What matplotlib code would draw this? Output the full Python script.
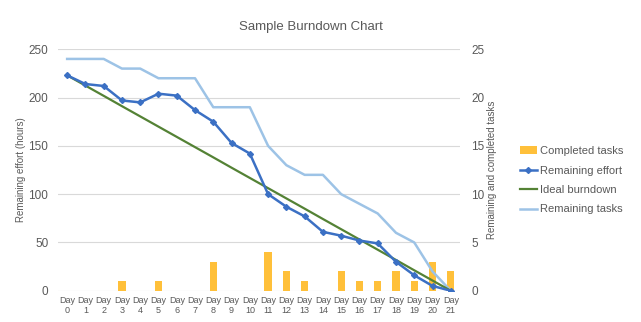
import matplotlib
matplotlib.use("Agg")
import matplotlib.pyplot as plt
import numpy as np

days = ["Day\n%d" % i for i in range(22)]
completed_tasks = [0, 0, 0, 1, 0, 1, 0, 0, 3, 0, 0, 4, 2, 1, 0, 2, 1, 1, 2, 1, 3, 2]
remaining_effort = [223, 214, 212, 197, 195, 204, 202, 187, 175, 153, 142, 100,
                    87, 77, 61, 57, 52, 49, 30, 16, 5, 0]
ideal_burndown = [223, 212.4, 201.8, 191.1, 180.5, 169.9, 159.3, 148.7, 138.1, 127.4, 116.8,
                  106.2, 95.6, 85, 74.3, 63.7, 53.1, 42.5, 31.9, 21.2, 10.6, 0]
remaining_tasks = [24, 24, 24, 23, 23, 22, 22, 22, 19, 19, 19, 15, 13, 12, 12, 10,
                   9, 8, 6, 5, 2, 0]

plt.rcParams["font.family"] = ["Liberation Sans", "DejaVu Sans"]
grey = "#595959"
x = np.arange(len(days))

fig = plt.figure(figsize=(6.41, 3.22), dpi=100)
ax = fig.add_axes([0.0905, 0.097, 0.627, 0.75])
ax2 = ax.twinx()

# tasks on the secondary axis, drawn underneath the effort lines
ax.set_zorder(ax2.get_zorder() + 1)
ax.patch.set_visible(False)

b = ax2.bar(x, completed_tasks, width=0.4, color="#FFC03A", label="Completed tasks", zorder=2)
l3, = ax2.plot(x, remaining_tasks, color="#9DC3E6", lw=1.8, label="Remaining tasks", zorder=3)
l1, = ax.plot(x, remaining_effort, color="#3B70C4", lw=1.8, marker="D", ms=3,
              label="Remaining effort", zorder=4)
l2, = ax.plot(x, ideal_burndown, color="#548235", lw=1.6, label="Ideal burndown", zorder=3)

ax.set_xlim(-0.5, 21.5)
ax.set_ylim(0, 250)
ax2.set_ylim(0, 25)
ax.set_yticks(range(0, 251, 50))
ax2.set_yticks(range(0, 26, 5))
ax2.yaxis.grid(True, color="#D9D9D9", lw=0.8, zorder=0)
ax2.set_axisbelow(True)

ax.set_xticks(x)
ax.set_xticklabels(days, fontsize=6.5, color=grey, linespacing=1.15)
for a in (ax, ax2):
    for s in a.spines.values():
        s.set_visible(False)
    a.tick_params(length=0, colors=grey, labelsize=8.5)
ax.tick_params(axis="x", labelsize=6.5, pad=4)
ax.tick_params(axis="y", pad=7)
ax2.tick_params(axis="y", pad=8)

ax.set_ylabel("Remaining effort (hours)", fontsize=7, color=grey, labelpad=2)
ax2.set_ylabel("Remaining and completed tasks", fontsize=7, color=grey, labelpad=2)
fig.suptitle("Sample Burndown Chart", x=0.485, y=0.935, fontsize=9.5, color=grey)

fig.legend([b, l1, l2, l3], ["Completed tasks", "Remaining effort", "Ideal burndown", "Remaining tasks"],
           loc="center left", bbox_to_anchor=(0.795, 0.44), frameon=False, fontsize=8,
           labelcolor=grey, handlelength=1.6, handletextpad=0.2, labelspacing=0.85)

fig.savefig("out.png", dpi=100)
